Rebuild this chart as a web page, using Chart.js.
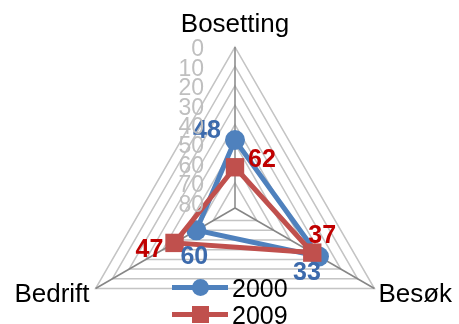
<!DOCTYPE html>
<html>
<head>
<meta charset="utf-8">
<script src="https://cdn.jsdelivr.net/npm/chart.js@4/dist/chart.umd.min.js"></script>
<style>
  html, body { margin: 0; padding: 0; background: #fff; }
  #wrap { position: relative; width: 459px; height: 324px; overflow: hidden; }
  #legend { position: absolute; left: 172px; top: 275px; font: 25px "Liberation Sans", Arial, sans-serif; color: #000; }
  .item { position: relative; height: 27px; line-height: 27px; padding-left: 60px; white-space: nowrap; }
  .line { position: absolute; left: 0; top: 10px; width: 56px; height: 5px; }
  .mk { position: absolute; }
</style>
</head>
<body>
<div id="wrap">
  <canvas id="myChart" width="459" height="324"></canvas>
  <div id="legend"></div>
</div>
<script>
var categories = ['Bosetting', 'Besøk', 'Bedrift'];
var years = ['2000', '2009'];
var values2000 = [48, 33, 60];
var values2009 = [62, 37, 47];
var tickLabels = [0, 10, 20, 30, 40, 50, 60, 70, 80];

var blue = '#4f81bd';
var red = '#c0504d';
var font = '"Liberation Sans", Arial, sans-serif';

// chart.js wants room for a full circle, the triangle needs less, so place it by hand
var geometry = {
  id: 'geometry',
  afterLayout: function (chart) {
    var s = chart.scales.r;
    s.xCenter = 235;
    s.yCenter = 208;
    s.drawingArea = 161;
  }
};

// category names, tick numbers
var textPlugin = {
  id: 'textPlugin',
  afterDraw: function (chart) {
    var s = chart.scales.r;
    var c = chart.ctx;
    c.save();
    c.font = '26px ' + font;
    c.fillStyle = '#000';
    c.textBaseline = 'alphabetic';
    categories.forEach(function (name, i) {
      var p = s.getPointPosition(i, s.drawingArea);
      if (i === 0) {
        c.textAlign = 'center';
        c.fillText(name, p.x, p.y - 15);
      } else if (i === 1) {
        c.textAlign = 'left';
        c.fillText(name, p.x + 4, p.y + 13);
      } else {
        c.textAlign = 'right';
        c.fillText(name, p.x - 6, p.y + 13);
      }
    });

    c.font = '23px ' + font;
    c.fillStyle = '#bfbfbf';
    c.textAlign = 'right';
    c.textBaseline = 'middle';
    tickLabels.forEach(function (v) {
      var d = s.getDistanceFromCenterForValue(v);
      c.fillText(String(v), s.xCenter - 31, s.yCenter - d + 3);
    });
    c.restore();
  }
};

// value labels next to the markers
var labelOffsets = [
  [[-28, -9], [-12, 17], [-2, 27]],
  [[27, -7], [10, -17], [-25, 7]]
];
var valuePlugin = {
  id: 'valueText',
  afterDatasetsDraw: function (chart) {
    var c = chart.ctx;
    c.save();
    c.font = 'bold 25px ' + font;
    c.textAlign = 'center';
    c.textBaseline = 'middle';
    chart.data.datasets.forEach(function (ds, i) {
      var meta = chart.getDatasetMeta(i);
      c.fillStyle = i === 0 ? '#3c6aac' : '#c00000';
      meta.data.forEach(function (pt, j) {
        var o = labelOffsets[i][j];
        c.fillText(String(ds.data[j]), pt.x + o[0], pt.y + o[1]);
      });
    });
    c.restore();
  }
};

var ctx = document.getElementById('myChart');
var myChart = new Chart(ctx, {
  type: 'radar',
  data: {
    labels: categories,
    datasets: [{
      label: years[0],
      data: values2000,
      order: 1,
      borderColor: blue,
      backgroundColor: blue,
      borderWidth: 5,
      pointStyle: 'circle',
      pointRadius: 10,
      pointBackgroundColor: blue,
      pointBorderWidth: 0,
      fill: false
    }, {
      label: years[1],
      data: values2009,
      order: 0,
      borderColor: red,
      backgroundColor: red,
      borderWidth: 5,
      pointStyle: 'rect',
      pointRadius: 13,
      pointBackgroundColor: red,
      pointBorderWidth: 0,
      fill: false
    }]
  },
  options: {
    responsive: false,
    animation: false,
    plugins: {
      legend: { display: false },
      tooltip: { enabled: false }
    },
    elements: { line: { tension: 0 } },
    scales: {
      r: {
        min: 0,
        max: 83,
        reverse: true,
        ticks: { display: false, stepSize: 10 },
        grid: { color: '#c4c4c4', lineWidth: 1.5 },
        angleLines: { color: '#868686', lineWidth: 1.5 },
        pointLabels: { display: false }
      }
    }
  },
  plugins: [geometry, textPlugin, valuePlugin]
});

// legend as html
var legend = document.getElementById('legend');
years.forEach(function (y, i) {
  var col = i === 0 ? blue : red;
  var mk = i === 0
    ? '<span class="mk" style="left:20px;top:4px;width:17px;height:17px;border-radius:50%;background:' + col + '"></span>'
    : '<span class="mk" style="left:20px;top:4px;width:17px;height:17px;background:' + col + '"></span>';
  legend.innerHTML += '<div class="item"><span class="line" style="background:' + col + '"></span>' + mk + y + '</div>';
});
</script>
</body>
</html>
